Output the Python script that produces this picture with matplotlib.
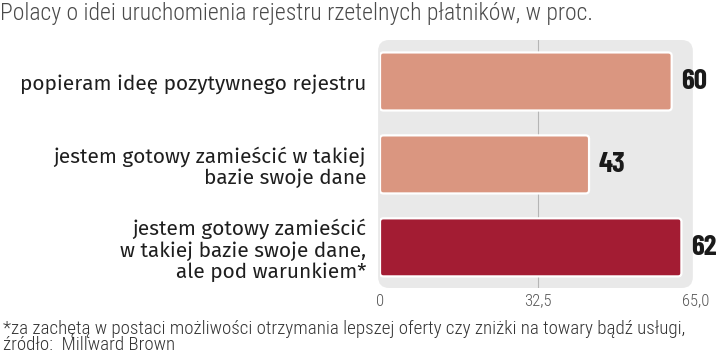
import matplotlib
matplotlib.use("Agg")
import matplotlib.pyplot as plt
from matplotlib.patches import FancyBboxPatch

categories = [
    "popieram ideę pozytywnego rejestru",
    "jestem gotowy zamieścić w takiej\nbazie swoje dane",
    "jestem gotowy zamieścić\nw takiej bazie swoje dane,\nale pod warunkiem*",
]
values = [60, 43, 62]
value_labels = ["60", "43", "62"]
colors = ["#DA9680", "#DA9680", "#A31C33"]
xticks = [0, 32.5, 65.0]
xtick_labels = ["0", "32,5", "65,0"]

title = "Polacy o idei uruchomienia rejestru rzetelnych płatników, w proc."
footnote = ("*za zachętą w postaci możliwości otrzymania lepszej oferty czy zniżki na towary bądź usługi,\n"
            "źródło:  Millward Brown")

COND = ["Roboto Condensed", "DejaVu Sans"]
BOLDC = ["Barlow Condensed", "Roboto Condensed", "DejaVu Sans"]
LAB = ["Fira Sans", "Open Sans", "DejaVu Sans"]

fig = plt.figure(figsize=(7.2, 3.54), dpi=100)
W, H = 720, 354
ax = fig.add_axes([380 / W, (H - 288) / H, 316 / W, 248 / H])
ax.set_xlim(0, 65)
ax.set_ylim(2.49, -0.5)
ax.patch.set_visible(False)
for s in ax.spines.values():
    s.set_visible(False)

# background rounded panel
bg = FancyBboxPatch((-0.006, 0.0), 0.996, 1.0,
                    boxstyle="round,pad=0,rounding_size=0.035",
                    transform=ax.transAxes, facecolor="#E9E9E9", edgecolor="none",
                    clip_on=False, zorder=0, mutation_aspect=316 / 248)
ax.add_patch(bg)
ax.axvline(32.5, color="#B5B5B5", lw=0.8, zorder=1)

aspect = (2.99 / 248) / (65 / 316)
bars = ax.barh(range(len(values)), values, height=0.7, color=colors)
for b in bars:
    x0, y0 = b.get_x(), b.get_y()
    w, h = b.get_width(), b.get_height()
    p = FancyBboxPatch((x0, y0), w, h,
                       boxstyle="round,pad=0,rounding_size=0.7",
                       mutation_aspect=aspect,
                       facecolor=b.get_facecolor(), edgecolor="white", lw=1.6, zorder=3)
    b.remove()
    ax.add_patch(p)

for i, (v, lab) in enumerate(zip(values, value_labels)):
    ax.text(v + 2.0, i, lab, va="center", ha="left",
            fontfamily=BOLDC, fontweight="bold",
            fontsize=21, color="#1A1A1A")

ax.set_yticks(range(len(categories)))
ax.set_yticklabels(categories, fontfamily=LAB, fontsize=15,
                   color="#1E1E1E", linespacing=1.1)
ax.tick_params(axis="y", length=0, pad=10)
ax.set_xticks(xticks)
ax.set_xticklabels(xtick_labels, fontfamily=COND, fontweight="light",
                   fontsize=12, color="#555555")
ax.tick_params(axis="x", length=0, pad=4)
for t in ax.get_yticklabels():
    t.set_multialignment("right")

fig.text(0 / W, 1 - 20 / H, title, fontfamily=COND, fontweight="light",
         fontsize=17, color="#4A4A4A", va="baseline", ha="left")
fig.text(3 / W, 1 - 337 / H, footnote, fontfamily=COND, fontweight="light",
         fontsize=13.7, color="#333333", va="center", ha="left", linespacing=0.85)

fig.savefig("out.png", dpi=100)
